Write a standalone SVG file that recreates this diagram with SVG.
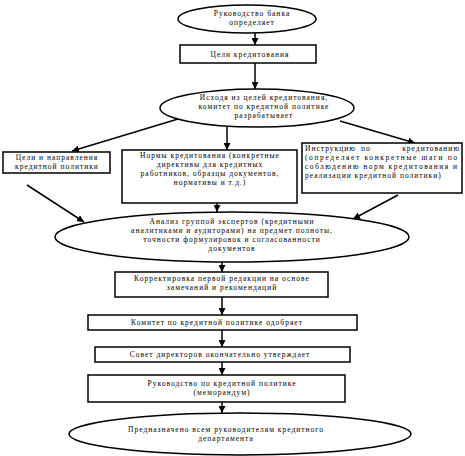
<svg xmlns="http://www.w3.org/2000/svg" width="465" height="456" viewBox="0 0 465 456">
<style>
.s{fill:#fff;stroke:#000;stroke-width:1.5}
.c{stroke:#000;stroke-width:1.5;fill:none;marker-end:url(#ah)}
text{font-family:"Liberation Serif","Times New Roman",serif;font-size:7.5px;fill:#000;letter-spacing:1px}
.m{text-anchor:middle}
.e{text-anchor:end}
</style>
<defs>
<marker id="ah" viewBox="0 0 10 10" refX="10" refY="5" markerWidth="7" markerHeight="7" markerUnits="userSpaceOnUse" orient="auto">
<path d="M0,0L10,5L0,10z" fill="#000"/>
</marker>
</defs>
<rect width="465" height="456" fill="#fff"/>
<g id="connectors">
<line class="c" x1="255" y1="33" x2="255" y2="45"/>
<line class="c" x1="255" y1="63" x2="255" y2="89"/>
<line class="c" x1="227" y1="127" x2="227" y2="150"/>
<line class="c" x1="178" y1="119" x2="72" y2="151"/>
<line class="c" x1="340" y1="121" x2="415" y2="143"/>
<line class="c" x1="217" y1="203" x2="217" y2="212"/>
<line class="c" x1="27" y1="185" x2="84" y2="222"/>
<line class="c" x1="398" y1="195" x2="353" y2="219"/>
<line class="c" x1="222" y1="262" x2="222" y2="272"/>
<line class="c" x1="222" y1="297" x2="222" y2="315"/>
<line class="c" x1="222" y1="330" x2="222" y2="347"/>
<line class="c" x1="222" y1="362" x2="222" y2="375"/>
<line class="c" x1="222" y1="402" x2="222" y2="413"/>
</g>
<g id="n1">
<ellipse class="s" cx="247" cy="19" rx="69" ry="14"/>
<text class="m" x="252" y="16">Руководство банка</text>
<text class="m" x="252" y="25">определяет</text>
</g>
<g id="n2">
<rect class="s" x="180" y="45" width="136" height="18"/>
<text class="m" x="250" y="57">Цели кредитования</text>
</g>
<g id="n3">
<ellipse class="s" cx="257" cy="108" rx="97" ry="19"/>
<text class="m" x="264" y="100">Исходя из целей кредитования,</text>
<text class="m" x="264" y="109">комитет по кредитной политике</text>
<text class="m" x="264" y="118">разрабатывает</text>
</g>
<g id="n4">
<rect class="s" x="3" y="152" width="107" height="21"/>
<text class="m" x="57" y="160">Цели и направления</text>
<text class="m" x="57" y="169">кредитной политики</text>
</g>
<g id="n5">
<rect class="s" x="122" y="150" width="175" height="53"/>
<text class="m" x="210" y="158">Нормы кредитования (конкретные</text>
<text class="m" x="210" y="167">директивы для кредитных</text>
<text class="m" x="210" y="176">работников, образцы документов,</text>
<text class="m" x="210" y="185">нормативы и т.д.)</text>
</g>
<g id="n6">
<rect class="s" x="302" y="143" width="160" height="50"/>
<text x="305" y="151">Инструкцию</text>
<text class="m" x="366" y="151">по</text>
<text class="e" x="460" y="151">кредитованию</text>
<text x="305" y="160" textLength="153" lengthAdjust="spacing">(определяет конкретные шаги по</text>
<text x="305" y="169" textLength="153" lengthAdjust="spacing">соблюдению норм кредитования и</text>
<text x="305" y="178">реализации кредитной политики)</text>
</g>
<g id="n7">
<ellipse class="s" cx="232" cy="237" rx="177" ry="25"/>
<text class="m" x="232" y="224">Анализ группой экспертов  (кредитными</text>
<text class="m" x="232" y="233">аналитиками и аудиторами) на предмет полноты,</text>
<text class="m" x="232" y="242">точности формулировок и согласованности</text>
<text class="m" x="232" y="251">документов</text>
</g>
<g id="n8">
<rect class="s" x="115" y="272" width="213" height="25"/>
<text class="m" x="222" y="281">Корректировка первой редакции на основе</text>
<text class="m" x="222" y="290">замечаний и рекомендаций</text>
</g>
<g id="n9">
<rect class="s" x="88" y="315" width="269" height="15"/>
<text class="m" x="217" y="325">Комитет по кредитной политике одобряет</text>
</g>
<g id="n10">
<rect class="s" x="95" y="347" width="255" height="15"/>
<text class="m" x="220" y="357">Совет директоров окончательно утверждает</text>
</g>
<g id="n11">
<rect class="s" x="88" y="375" width="257" height="27"/>
<text class="m" x="222" y="386">Руководство по кредитной политике</text>
<text class="m" x="222" y="395">(меморандум)</text>
</g>
<g id="n12">
<ellipse class="s" cx="240" cy="434" rx="171" ry="21"/>
<text class="m" x="226" y="432">Предназначено всем руководителям кредитного</text>
<text class="m" x="226" y="441">департамента</text>
</g>
</svg>
